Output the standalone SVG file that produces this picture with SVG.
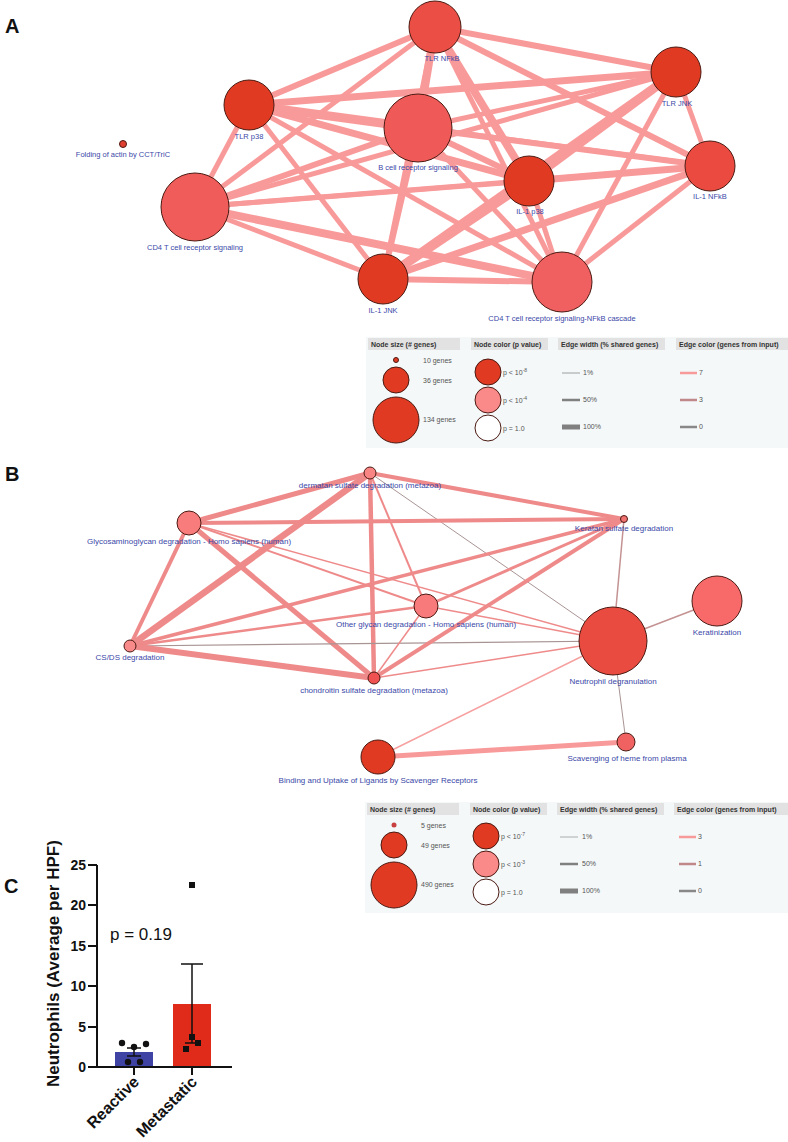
<svg xmlns="http://www.w3.org/2000/svg" width="788" height="1142" viewBox="0 0 788 1142">
<style>
.pl{font-family:"Liberation Sans",Arial,sans-serif;font-weight:bold;font-size:20px;fill:#111}
.lbl{font-family:"Liberation Sans",Arial,sans-serif;font-size:7.5px;fill:#3a48a8;text-anchor:middle}
.lblb{font-family:"Liberation Sans",Arial,sans-serif;font-size:8px;fill:#3a48a8;text-anchor:middle}
.nd{stroke:#4a1a12;stroke-width:1}
.ea{stroke:#f99a9a;stroke-linecap:butt;fill:none}
.eb{stroke:#ef8a8a;fill:none}
.ebm{stroke:#c49292;fill:none}
.ebg{stroke:#a99494;fill:none}
.lgbg{fill:#f4f8f9}
.lgh{fill:#e2e2e2}
.lght{font-family:"Liberation Sans",Arial,sans-serif;font-size:7px;font-weight:bold;fill:#333}
.lgt{font-family:"Liberation Sans",Arial,sans-serif;font-size:7px;fill:#555}
.ax{stroke:#111;stroke-width:2;fill:none}
.tk{font-family:"Liberation Sans",Arial,sans-serif;font-size:14px;font-weight:bold;fill:#111;text-anchor:end}
.cb{font-family:"Liberation Sans",Arial,sans-serif;font-weight:bold;fill:#111}
</style>

<!-- Panel letters -->
<text class="pl" x="5" y="33">A</text>
<text class="pl" x="5" y="481">B</text>
<text class="pl" x="4" y="893">C</text>

<!-- Panel A connectors -->
<g id="edges-a">
<line class="ea" stroke-width="6" x1="435" y1="27" x2="676" y2="72"/>
<line class="ea" stroke-width="6" x1="435" y1="27" x2="710" y2="166"/>
<line class="ea" stroke-width="6" x1="435" y1="27" x2="249" y2="105"/>
<line class="ea" stroke-width="8" x1="435" y1="27" x2="418" y2="128"/>
<line class="ea" stroke-width="8" x1="435" y1="27" x2="529" y2="181"/>
<line class="ea" stroke-width="5" x1="435" y1="27" x2="562" y2="282"/>
<line class="ea" stroke-width="5" x1="435" y1="27" x2="195" y2="207"/>
<line class="ea" stroke-width="5" x1="435" y1="27" x2="383" y2="279"/>
<line class="ea" stroke-width="7" x1="676" y1="72" x2="249" y2="105"/>
<line class="ea" stroke-width="5" x1="676" y1="72" x2="418" y2="128"/>
<line class="ea" stroke-width="5" x1="676" y1="72" x2="710" y2="166"/>
<line class="ea" stroke-width="9" x1="676" y1="72" x2="529" y2="181"/>
<line class="ea" stroke-width="5" x1="676" y1="72" x2="195" y2="207"/>
<line class="ea" stroke-width="8" x1="676" y1="72" x2="383" y2="279"/>
<line class="ea" stroke-width="5" x1="676" y1="72" x2="562" y2="282"/>
<line class="ea" stroke-width="9" x1="249" y1="105" x2="418" y2="128"/>
<line class="ea" stroke-width="5" x1="249" y1="105" x2="195" y2="207"/>
<line class="ea" stroke-width="7" x1="249" y1="105" x2="529" y2="181"/>
<line class="ea" stroke-width="5" x1="249" y1="105" x2="383" y2="279"/>
<line class="ea" stroke-width="5" x1="249" y1="105" x2="562" y2="282"/>
<line class="ea" stroke-width="5" x1="249" y1="105" x2="710" y2="166"/>
<line class="ea" stroke-width="6" x1="418" y1="128" x2="195" y2="207"/>
<line class="ea" stroke-width="6" x1="418" y1="128" x2="529" y2="181"/>
<line class="ea" stroke-width="6" x1="418" y1="128" x2="710" y2="166"/>
<line class="ea" stroke-width="6" x1="418" y1="128" x2="383" y2="279"/>
<line class="ea" stroke-width="5" x1="418" y1="128" x2="562" y2="282"/>
<line class="ea" stroke-width="5" x1="195" y1="207" x2="529" y2="181"/>
<line class="ea" stroke-width="5" x1="195" y1="207" x2="710" y2="166"/>
<line class="ea" stroke-width="5" x1="195" y1="207" x2="383" y2="279"/>
<line class="ea" stroke-width="8" x1="195" y1="207" x2="562" y2="282"/>
<line class="ea" stroke-width="7" x1="529" y1="181" x2="710" y2="166"/>
<line class="ea" stroke-width="9" x1="529" y1="181" x2="383" y2="279"/>
<line class="ea" stroke-width="5" x1="529" y1="181" x2="562" y2="282"/>
<line class="ea" stroke-width="7" x1="710" y1="166" x2="383" y2="279"/>
<line class="ea" stroke-width="5" x1="710" y1="166" x2="562" y2="282"/>
<line class="ea" stroke-width="6" x1="383" y1="279" x2="562" y2="282"/>
</g>

<!-- Panel A nodes -->
<g id="a-tlr-nfkb"><circle class="nd" cx="435" cy="27" r="26" fill="#eb4e44"/><text class="lbl" x="442" y="61">TLR NFkB</text></g>
<g id="a-tlr-jnk"><circle class="nd" cx="676" cy="72" r="25" fill="#e03a22"/><text class="lbl" x="677" y="106">TLR JNK</text></g>
<g id="a-il1-nfkb"><circle class="nd" cx="710" cy="166" r="25" fill="#ea4a40"/><text class="lbl" x="710" y="199">IL-1 NFkB</text></g>
<g id="a-il1-p38"><circle class="nd" cx="529" cy="181" r="25" fill="#e03a22"/><text class="lbl" x="530" y="214">IL-1 p38</text></g>
<g id="a-cd4-nfkb"><circle class="nd" cx="562" cy="282" r="30" fill="#f06060"/><text class="lbl" x="562" y="321">CD4 T cell receptor signaling-NFkB cascade</text></g>
<g id="a-bcell"><circle class="nd" cx="418" cy="128" r="34" fill="#ef5a58"/><text class="lbl" x="418" y="170">B cell receptor signaling</text></g>
<g id="a-tlr-p38"><circle class="nd" cx="249" cy="105" r="25" fill="#e03a22"/><text class="lbl" x="249" y="139">TLR p38</text></g>
<g id="a-cd4"><circle class="nd" cx="195" cy="207" r="34" fill="#f05c5a"/><text class="lbl" x="195" y="250">CD4 T cell receptor signaling</text></g>
<g id="a-il1-jnk"><circle class="nd" cx="383" cy="279" r="25" fill="#e03a22"/><text class="lbl" x="383" y="313">IL-1 JNK</text></g>
<g id="a-folding"><circle class="nd" cx="123" cy="144" r="3.5" fill="#e04030"/><text class="lbl" x="123" y="157">Folding of actin by CCT/TriC</text></g>

<!-- Panel A legend -->
<g id="legend-a">
<rect class="lgbg" x="366" y="337" width="422" height="111"/>
<rect class="lgh" x="368" y="338" width="92" height="12"/>
<rect class="lgh" x="471" y="338" width="77" height="12"/>
<rect class="lgh" x="558" y="338" width="107" height="12"/>
<rect class="lgh" x="676" y="338" width="112" height="12"/>
<text class="lght" x="371" y="347">Node size (# genes)</text>
<text class="lght" x="474" y="347">Node color (p value)</text>
<text class="lght" x="561" y="347">Edge width (% shared genes)</text>
<text class="lght" x="679" y="347">Edge color (genes from input)</text>
<circle class="nd" cx="396" cy="360" r="2.5" fill="#e03a22"/>
<circle class="nd" cx="396" cy="380" r="13" fill="#e03a22"/>
<circle class="nd" cx="396" cy="420" r="23" fill="#e03a22"/>
<text class="lgt" x="423" y="363">10 genes</text>
<text class="lgt" x="423" y="383">36 genes</text>
<text class="lgt" x="423" y="422">134 genes</text>
<circle class="nd" cx="488" cy="372" r="13" fill="#e03a22"/>
<circle class="nd" cx="488" cy="400" r="13" fill="#fa8a8a"/>
<circle class="nd" cx="488" cy="428" r="13" fill="#ffffff"/>
<text class="lgt" x="503" y="375">p &lt; 10<tspan dy="-3" font-size="5">-8</tspan></text>
<text class="lgt" x="503" y="403">p &lt; 10<tspan dy="-3" font-size="5">-4</tspan></text>
<text class="lgt" x="503" y="431">p = 1.0</text>
<line x1="562" y1="373" x2="580" y2="373" stroke="#888" stroke-width="0.8"/>
<line x1="562" y1="400" x2="580" y2="400" stroke="#808080" stroke-width="2.5"/>
<line x1="562" y1="427" x2="580" y2="427" stroke="#808080" stroke-width="5"/>
<text class="lgt" x="583" y="375">1%</text>
<text class="lgt" x="583" y="402">50%</text>
<text class="lgt" x="583" y="429">100%</text>
<line x1="680" y1="373" x2="697" y2="373" stroke="#f99a9a" stroke-width="2.5"/>
<line x1="680" y1="400" x2="697" y2="400" stroke="#c08888" stroke-width="2.5"/>
<line x1="680" y1="427" x2="697" y2="427" stroke="#888888" stroke-width="2.5"/>
<text class="lgt" x="699" y="375">7</text>
<text class="lgt" x="699" y="402">3</text>
<text class="lgt" x="699" y="429">0</text>
</g>

<!-- Panel B connectors -->
<g id="edges-b">
<line class="eb" stroke-width="5" x1="370" y1="473" x2="189" y2="523"/>
<line class="eb" stroke-width="4" x1="370" y1="473" x2="624" y2="519"/>
<line class="eb" stroke-width="6.5" x1="370" y1="473" x2="130" y2="646"/>
<line class="eb" stroke-width="4.5" x1="370" y1="473" x2="374" y2="678"/>
<line class="eb" stroke-width="2" x1="370" y1="473" x2="426" y2="606"/>
<line class="ebg" stroke-width="1" x1="370" y1="473" x2="613" y2="641"/>
<line class="eb" stroke-width="4" x1="189" y1="523" x2="624" y2="519"/>
<line class="eb" stroke-width="4" x1="189" y1="523" x2="130" y2="646"/>
<line class="eb" stroke-width="5" x1="189" y1="523" x2="374" y2="678"/>
<line class="eb" stroke-width="2" x1="189" y1="523" x2="426" y2="606"/>
<line class="eb" stroke-width="1.5" x1="189" y1="523" x2="613" y2="641"/>
<line class="eb" stroke-width="3.5" x1="130" y1="646" x2="624" y2="519"/>
<line class="eb" stroke-width="2.5" x1="130" y1="646" x2="426" y2="606"/>
<line class="ebg" stroke-width="1.2" x1="130" y1="646" x2="613" y2="641"/>
<line class="eb" stroke-width="6" x1="130" y1="646" x2="374" y2="678"/>
<line class="eb" stroke-width="4" x1="374" y1="678" x2="624" y2="519"/>
<line class="eb" stroke-width="1.5" x1="374" y1="678" x2="426" y2="606"/>
<line class="eb" stroke-width="1.5" x1="374" y1="678" x2="613" y2="641"/>
<line class="eb" stroke-width="3" x1="426" y1="606" x2="624" y2="519"/>
<line class="eb" stroke-width="1.5" x1="426" y1="606" x2="613" y2="641"/>
<line class="ebm" stroke-width="1.5" x1="624" y1="519" x2="613" y2="641"/>
<line class="ebm" stroke-width="1.5" x1="613" y1="641" x2="717" y2="601"/>
<line class="ebg" stroke-width="1" x1="613" y1="641" x2="626" y2="742"/>
<line stroke="#f7a0a0" stroke-width="1.5" x1="613" y1="641" x2="378" y2="757"/>
<line stroke="#f99a9a" stroke-width="5" x1="378" y1="757" x2="626" y2="742"/>
</g>

<!-- Panel B nodes -->
<g id="b-dermatan"><circle class="nd" cx="370" cy="473" r="6" fill="#f88484"/><text class="lblb" x="370" y="488">dermatan sulfate degradation (metazoa)</text></g>
<g id="b-glyco"><circle class="nd" cx="189" cy="523" r="12" fill="#f87c7c"/><text class="lblb" x="189" y="544">Glycosaminoglycan degradation - Homo sapiens (human)</text></g>
<g id="b-keratan"><circle class="nd" cx="624" cy="519" r="3.5" fill="#f07272"/><text class="lblb" x="624" y="531">Keratan sulfate degradation</text></g>
<g id="b-other"><circle class="nd" cx="426" cy="606" r="12" fill="#f87a7a"/><text class="lblb" x="426" y="627">Other glycan degradation - Homo sapiens (human)</text></g>
<g id="b-csds"><circle class="nd" cx="130" cy="646" r="6" fill="#f88a8a"/><text class="lblb" x="130" y="660">CS/DS degradation</text></g>
<g id="b-chondroitin"><circle class="nd" cx="374" cy="678" r="6" fill="#f05252"/><text class="lblb" x="374" y="693">chondroitin sulfate degradation (metazoa)</text></g>
<g id="b-neutrophil"><circle class="nd" cx="613" cy="641" r="34" fill="#ea4b40"/><text class="lblb" x="613" y="684">Neutrophil degranulation</text></g>
<g id="b-keratinization"><circle class="nd" cx="717" cy="601" r="25" fill="#f86a6a"/><text class="lblb" x="717" y="635">Keratinization</text></g>
<g id="b-binding"><circle class="nd" cx="378" cy="757" r="17" fill="#e03a22"/><text class="lblb" x="378" y="783">Binding and Uptake of Ligands by Scavenger Receptors</text></g>
<g id="b-scavenging"><circle class="nd" cx="626" cy="742" r="9" fill="#f06262"/><text class="lblb" x="627" y="761">Scavenging of heme from plasma</text></g>

<!-- Panel B legend -->
<g id="legend-b">
<rect class="lgbg" x="365" y="802" width="423" height="111"/>
<rect class="lgh" x="367" y="803" width="92" height="12"/>
<rect class="lgh" x="470" y="803" width="77" height="12"/>
<rect class="lgh" x="557" y="803" width="107" height="12"/>
<rect class="lgh" x="674" y="803" width="114" height="12"/>
<text class="lght" x="370" y="812">Node size (# genes)</text>
<text class="lght" x="473" y="812">Node color (p value)</text>
<text class="lght" x="560" y="812">Edge width (% shared genes)</text>
<text class="lght" x="677" y="812">Edge color (genes from input)</text>
<circle cx="394" cy="825" r="2.5" fill="#c84040"/>
<circle class="nd" cx="394" cy="845" r="13" fill="#e03a22"/>
<circle class="nd" cx="394" cy="885" r="23" fill="#e03a22"/>
<text class="lgt" x="421" y="828">5 genes</text>
<text class="lgt" x="421" y="848">49 genes</text>
<text class="lgt" x="421" y="887">490 genes</text>
<circle class="nd" cx="486" cy="836" r="13" fill="#e03a22"/>
<circle class="nd" cx="486" cy="864" r="13" fill="#fa8a8a"/>
<circle class="nd" cx="486" cy="892" r="13" fill="#ffffff"/>
<text class="lgt" x="501" y="839">p &lt; 10<tspan dy="-3" font-size="5">-7</tspan></text>
<text class="lgt" x="501" y="867">p &lt; 10<tspan dy="-3" font-size="5">-3</tspan></text>
<text class="lgt" x="501" y="895">p = 1.0</text>
<line x1="560" y1="837" x2="578" y2="837" stroke="#999" stroke-width="0.8"/>
<line x1="560" y1="864" x2="578" y2="864" stroke="#808080" stroke-width="2.5"/>
<line x1="560" y1="891" x2="578" y2="891" stroke="#808080" stroke-width="5"/>
<text class="lgt" x="582" y="839">1%</text>
<text class="lgt" x="582" y="866">50%</text>
<text class="lgt" x="582" y="893">100%</text>
<line x1="679" y1="837" x2="696" y2="837" stroke="#f99a9a" stroke-width="2.5"/>
<line x1="679" y1="864" x2="696" y2="864" stroke="#c08888" stroke-width="2.5"/>
<line x1="679" y1="891" x2="696" y2="891" stroke="#888888" stroke-width="2.5"/>
<text class="lgt" x="698" y="839">3</text>
<text class="lgt" x="698" y="866">1</text>
<text class="lgt" x="698" y="893">0</text>
</g>

<!-- Panel C chart -->
<g id="chart-c">
<rect x="115" y="1052" width="38" height="15" fill="#3f44a4"/>
<rect x="173" y="1004" width="38" height="63" fill="#e02a1a"/>
<path class="ax" d="M97,865 V1067 H232"/>
<path class="ax" d="M88,865 H97 M88,905 H97 M88,946 H97 M88,986 H97 M88,1027 H97 M88,1067 H97"/>
<path class="ax" d="M134,1067 V1075 M192,1067 V1075"/>
<text class="tk" x="86" y="870">25</text>
<text class="tk" x="86" y="910">20</text>
<text class="tk" x="86" y="951">15</text>
<text class="tk" x="86" y="991">10</text>
<text class="tk" x="86" y="1032">5</text>
<text class="tk" x="86" y="1072">0</text>
<path d="M134,1048 V1056 M127,1048 H141 M127,1056 H141" stroke="#111" stroke-width="1.5" fill="none"/>
<path d="M192,964 V1043 M181,964 H203 M185,1043 H199" stroke="#111" stroke-width="1.5" fill="none"/>
<g fill="#111">
<circle cx="122" cy="1043" r="3.2"/>
<circle cx="134" cy="1047" r="3.2"/>
<circle cx="146" cy="1044" r="3.2"/>
<circle cx="128" cy="1062" r="3.2"/>
<circle cx="140" cy="1062" r="3.2"/>
<rect x="189" y="882" width="6" height="6"/>
<rect x="189" y="1034" width="6" height="6"/>
<rect x="195" y="1040" width="6" height="6"/>
<rect x="183" y="1046" width="6" height="6"/>
</g>
<text font-family="Liberation Sans, Arial, sans-serif" font-size="17" fill="#111" x="110" y="940">p = 0.19</text>
<text class="cb" font-size="17" transform="translate(59,1087) rotate(-90)">Neutrophils (Average per HPF)</text>
<text class="cb" font-size="16" text-anchor="end" transform="translate(140,1083) rotate(-45)">Reactive</text>
<text class="cb" font-size="16" text-anchor="end" transform="translate(198,1083) rotate(-45)">Metastatic</text>
</g>
</svg>
